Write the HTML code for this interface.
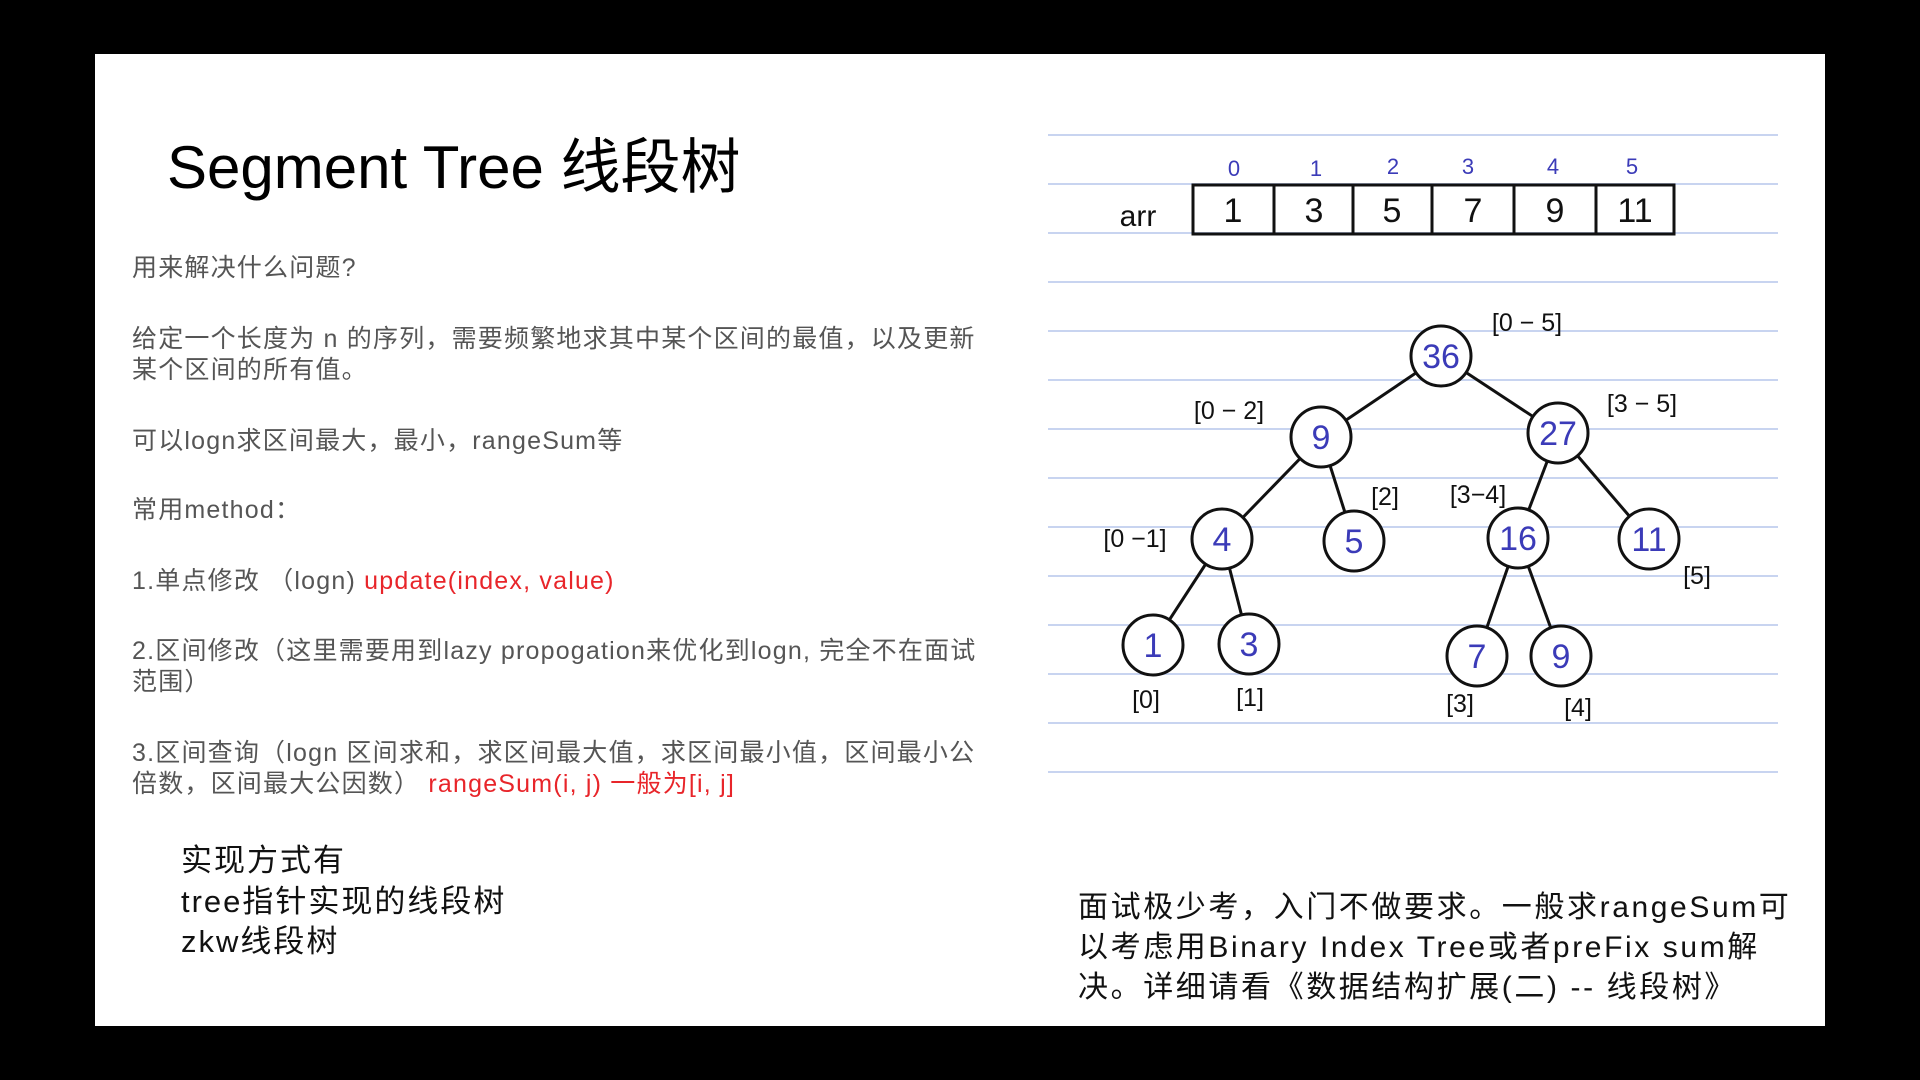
<!DOCTYPE html>
<html><head><meta charset="utf-8"><style>
body{margin:0;width:1920px;height:1080px;background:#000;overflow:hidden;position:relative;font-family:"Liberation Sans","Noto Sans CJK SC",sans-serif}
#slide{position:absolute;left:95px;top:54px;width:1730px;height:972px;background:#fff}
.t{position:absolute;white-space:nowrap;line-height:1}
.b{font-size:25px;color:#555;letter-spacing:1.2px}
.r{color:#e8252a}
.k{font-size:31px;color:#111;letter-spacing:2px}
</style></head><body>
<div id="slide"></div>
<div class="t" style="left:167px;top:138px;font-size:60px;color:#000">Segment Tree 线段树</div>
<div class="t b" style="left:132px;top:256px">用来解决什么问题?</div>
<div class="t b" style="left:132px;top:327px">给定一个长度为 n 的序列，需要频繁地求其中某个区间的最值，以及更新</div>
<div class="t b" style="left:132px;top:358px">某个区间的所有值。</div>
<div class="t b" style="left:132px;top:429px">可以logn求区间最大，最小，rangeSum等</div>
<div class="t b" style="left:132px;top:498px">常用method：</div>
<div class="t b" style="left:132px;top:569px">1.单点修改 （logn) <span class="r">update(index, value)</span></div>
<div class="t b" style="left:132px;top:639px">2.区间修改（这里需要用到lazy propogation来优化到logn, 完全不在面试</div>
<div class="t b" style="left:132px;top:670px">范围）</div>
<div class="t b" style="left:132px;top:741px">3.区间查询（logn 区间求和，求区间最大值，求区间最小值，区间最小公</div>
<div class="t b" style="left:132px;top:772px">倍数，区间最大公因数） <span class="r">rangeSum(i, j) 一般为[i, j]</span></div>
<div class="t k" style="left:181px;top:845px">实现方式有</div>
<div class="t k" style="left:181px;top:886px">tree指针实现的线段树</div>
<div class="t k" style="left:181px;top:926px">zkw线段树</div>
<div class="t k" style="left:1078px;top:893px;font-size:30px;letter-spacing:2.6px">面试极少考，入门不做要求。一般求rangeSum可</div>
<div class="t k" style="left:1078px;top:933px;font-size:30px;letter-spacing:2.6px">以考虑用Binary Index Tree或者preFix sum解</div>
<div class="t k" style="left:1078px;top:973px;font-size:30px;letter-spacing:2.6px">决。详细请看《数据结构扩展(二) -- 线段树》</div>
<svg style="position:absolute;left:0;top:0" width="1920" height="1080" font-family="Liberation Sans, sans-serif">
<g stroke="#c8d4f0" stroke-width="2">
<line x1="1048" x2="1778" y1="135" y2="135"/><line x1="1048" x2="1778" y1="184" y2="184"/><line x1="1048" x2="1778" y1="233" y2="233"/><line x1="1048" x2="1778" y1="282" y2="282"/><line x1="1048" x2="1778" y1="331" y2="331"/><line x1="1048" x2="1778" y1="380" y2="380"/><line x1="1048" x2="1778" y1="429" y2="429"/><line x1="1048" x2="1778" y1="478" y2="478"/><line x1="1048" x2="1778" y1="527" y2="527"/><line x1="1048" x2="1778" y1="576" y2="576"/><line x1="1048" x2="1778" y1="625" y2="625"/><line x1="1048" x2="1778" y1="674" y2="674"/><line x1="1048" x2="1778" y1="723" y2="723"/><line x1="1048" x2="1778" y1="772" y2="772"/>
</g>
<g stroke="#111" stroke-width="3" fill="none">
<rect x="1193" y="185" width="481" height="49"/>
<line x1="1274" y1="185" x2="1274" y2="234"/><line x1="1353" y1="185" x2="1353" y2="234"/><line x1="1432" y1="185" x2="1432" y2="234"/><line x1="1514" y1="185" x2="1514" y2="234"/><line x1="1596" y1="185" x2="1596" y2="234"/>
<line x1="1441" y1="356" x2="1321" y2="437"/><line x1="1441" y1="356" x2="1558" y2="433"/>
<line x1="1321" y1="437" x2="1222" y2="539"/><line x1="1321" y1="437" x2="1354" y2="541"/>
<line x1="1558" y1="433" x2="1518" y2="538"/><line x1="1558" y1="433" x2="1649" y2="539"/>
<line x1="1222" y1="539" x2="1153" y2="645"/><line x1="1222" y1="539" x2="1249" y2="644"/>
<line x1="1518" y1="538" x2="1477" y2="656"/><line x1="1518" y1="538" x2="1561" y2="656"/>
</g>
<g stroke="#111" stroke-width="3" fill="#fff">
<circle cx="1441" cy="356" r="30"/><circle cx="1321" cy="437" r="30"/><circle cx="1558" cy="433" r="30"/>
<circle cx="1222" cy="539" r="30"/><circle cx="1354" cy="541" r="30"/><circle cx="1518" cy="538" r="30"/><circle cx="1649" cy="539" r="30"/>
<circle cx="1153" cy="645" r="30"/><circle cx="1249" cy="644" r="30"/><circle cx="1477" cy="656" r="30"/><circle cx="1561" cy="656" r="30"/>
</g>
<g fill="#3b3bb8" font-size="34" text-anchor="middle">
<text x="1441" y="368">36</text><text x="1321" y="449">9</text><text x="1558" y="445">27</text>
<text x="1222" y="551">4</text><text x="1354" y="553">5</text><text x="1518" y="550">16</text><text x="1649" y="551">11</text>
<text x="1153" y="657">1</text><text x="1249" y="656">3</text><text x="1477" y="668">7</text><text x="1561" y="668">9</text>
</g>
<g fill="#3b3bb8" font-size="22" text-anchor="middle">
<text x="1234" y="176">0</text><text x="1316" y="176">1</text><text x="1393" y="174">2</text><text x="1468" y="174">3</text><text x="1553" y="174">4</text><text x="1632" y="174">5</text>
</g>
<g fill="#111" font-size="34" text-anchor="middle">
<text x="1233" y="222">1</text><text x="1314" y="222">3</text><text x="1392" y="222">5</text><text x="1473" y="222">7</text><text x="1555" y="222">9</text><text x="1635" y="222">11</text>
</g>
<text x="1138" y="226" font-size="30" fill="#111" text-anchor="middle">arr</text>
<g fill="#111" font-size="25" text-anchor="middle">
<text x="1527" y="331">[0 − 5]</text><text x="1229" y="419">[0 − 2]</text><text x="1642" y="412">[3 − 5]</text>
<text x="1385" y="505">[2]</text><text x="1478" y="503">[3−4]</text><text x="1135" y="547">[0 −1]</text><text x="1697" y="584">[5]</text>
<text x="1146" y="708">[0]</text><text x="1250" y="706">[1]</text><text x="1460" y="712">[3]</text><text x="1578" y="716">[4]</text>
</g>
</svg>
</body></html>
